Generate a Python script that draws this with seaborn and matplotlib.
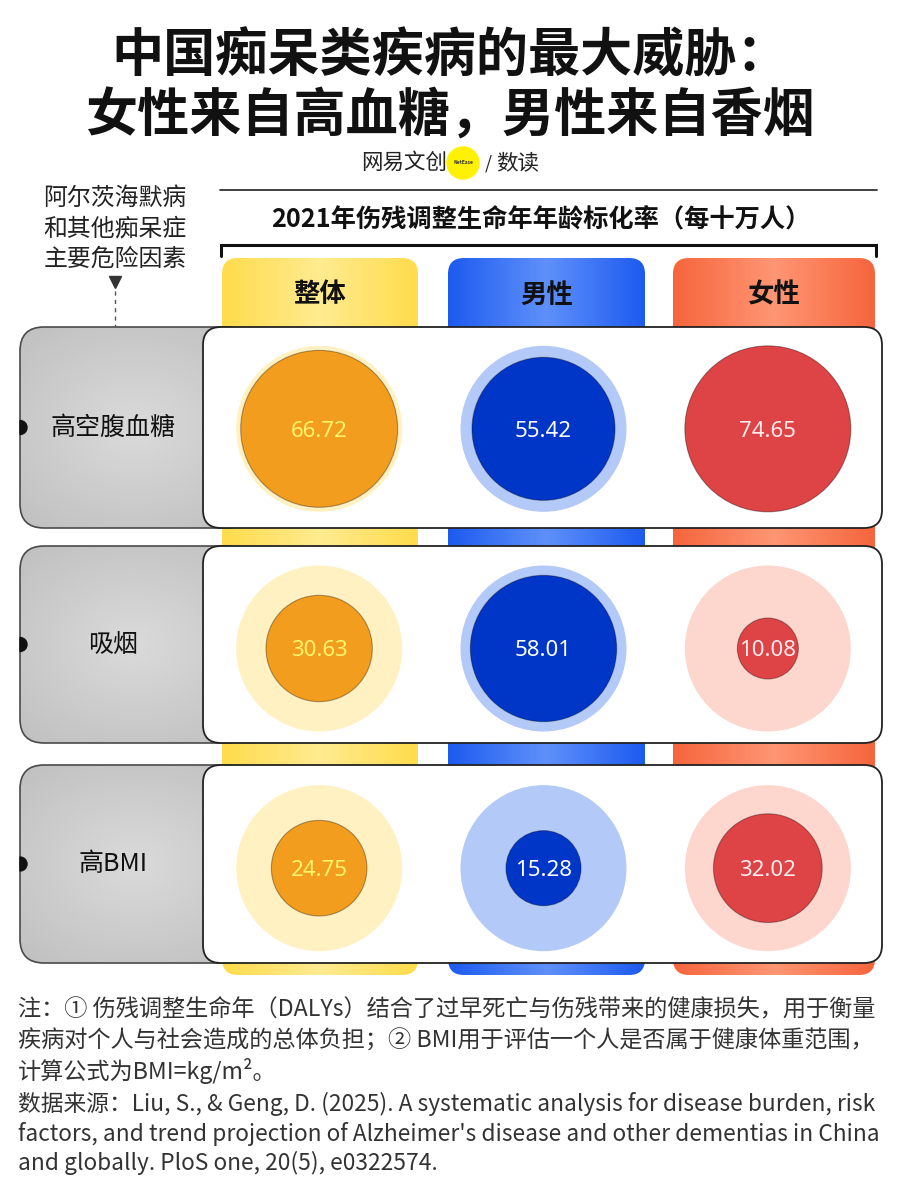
import numpy as np
import pandas as pd
import matplotlib
matplotlib.use("Agg")
import matplotlib.pyplot as plt
import seaborn as sns
from matplotlib.patches import FancyBboxPatch, Circle, Wedge
from matplotlib.colors import LinearSegmentedColormap

# ---- data -------------------------------------------------------------
groups = ["整体", "男性", "女性"]
factors = ["高空腹血糖", "吸烟", "高BMI"]
overall = [66.72, 30.63, 24.75]
male = [55.42, 58.01, 15.28]
female = [74.65, 10.08, 32.02]

title_lines = ["中国痴呆类疾病的最大威胁：", "女性来自高血糖，男性来自香烟"]
subtitle = "2021年伤残调整生命年年龄标化率（每十万人）"
side_note = ["阿尔茨海默病", "和其他痴呆症", "主要危险因素"]
footnotes = [
    "注：① 伤残调整生命年（DALYs）结合了过早死亡与伤残带来的健康损失，用于衡量",
    "疾病对个人与社会造成的总体负担；② BMI用于评估一个人是否属于健康体重范围，",
    "计算公式为BMI=kg/m²。",
    "数据来源：Liu, S., & Geng, D. (2025). A systematic analysis for disease burden, risk",
    "factors, and trend projection of Alzheimer's disease and other dementias in China",
    "and globally. PloS one, 20(5), e0322574.",
]

# ---- style ------------------------------------------------------------
inner_colors = ["#F29D1E", "#0036C8", "#DE4346"]
outer_colors = ["#FFF1C2", "#B3C9F7", "#FDD6CD"]
bar_colors = [("#FFDC4C", "#FFEB90"), ("#1D5BEF", "#5F90FA"), ("#F6653D", "#FF9674")]
value_colors = ["#FFF46B", "#FFFFFF", "#FFEDED"]

W, H = 899, 1200
bar_x = [(222, 418), (448, 645), (673, 875)]
bar_top, bar_bottom = 258, 975
row_y = [(327, 528), (546, 743), (765, 963)]

sns.set_theme(style="white")
plt.rcParams["font.family"] = ["Noto Sans CJK SC", "DejaVu Sans"]

df = pd.DataFrame({
    "factor": np.repeat(factors, len(groups)),
    "group": groups * len(factors),
    "value": np.ravel(np.column_stack([overall, male, female])),
})
vmax = df["value"].max()
r_max_px = 83
s_max = (2 * r_max_px * 72 / 100) ** 2

fig = plt.figure(figsize=(W / 100, H / 100), dpi=100)
fig.patch.set_facecolor("white")
bg = fig.add_axes([0, 0, 1, 1])
bg.set_xlim(0, W)
bg.set_ylim(H, 0)
bg.axis("off")

# titles
bg.text(450, 56, title_lines[0], ha="center", va="center",
        fontsize=37.5, weight="heavy", color="#111111")
bg.text(450, 116, title_lines[1], ha="center", va="center",
        fontsize=37.5, weight="heavy", color="#111111")

# logo
bg.text(447, 163, "网易文创", ha="right", va="center", fontsize=15.5, color="#222222")
bg.add_patch(Circle((463, 163), 16, color="#FFF200", zorder=1))
bg.text(463, 163, "NetEase", ha="center", va="center", fontsize=3.5,
        weight="bold", color="#333333", zorder=2)
bg.text(488, 163, "/", ha="center", va="center", fontsize=13, color="#222222")
bg.text(496, 163, "数读", ha="left", va="center", fontsize=15.5, color="#222222")

# side note
for k, line in enumerate(side_note):
    bg.text(115, 198 + k * 30.5, line, ha="center", va="center",
            fontsize=17.2, color="#222222")
bg.plot(115, 282, marker="v", ms=9, color="#333333")
bg.plot([115, 115], [291, 327], ls=(0, (3, 3)), lw=1, color="#555555")

# header lines
bg.plot([220, 877], [190, 190], color="#333333", lw=1.3)
bg.text(541, 219, subtitle, ha="center", va="center", fontsize=18.2,
        weight="bold", color="#111111")
bg.plot([221, 221, 876, 876], [256, 245, 245, 256], color="#111111", lw=2.2,
        solid_joinstyle="miter")

# column bars with horizontal gradient
for (x0, x1), (edge, mid), name in zip(bar_x, bar_colors, groups):
    patch = FancyBboxPatch((x0, bar_top), x1 - x0, bar_bottom - bar_top,
                           boxstyle="round,pad=0,rounding_size=16",
                           facecolor="none", edgecolor="none", zorder=1)
    bg.add_patch(patch)
    cmap = LinearSegmentedColormap.from_list("g", [edge, mid, edge])
    im = bg.imshow(np.linspace(0, 1, 200)[None, :], extent=(x0, x1, bar_bottom, bar_top),
                   cmap=cmap, aspect="auto", zorder=1, interpolation="bilinear")
    im.set_clip_path(patch)
    bg.text((x0 + x1) / 2, 295, name, ha="center", va="center", fontsize=19,
            weight="bold", color="#111111", zorder=2)

# row panels
gy, gx = np.mgrid[-1:1:80j, -1:1:80j]
glow = np.hypot(gx * 0.9, gy)
gray_cmap = LinearSegmentedColormap.from_list("gray", ["#DADADA", "#C0C0C0"])
for (y0, y1), name in zip(row_y, factors):
    gbox = FancyBboxPatch((20, y0), 230, y1 - y0, boxstyle="round,pad=0,rounding_size=24",
                          facecolor="none", edgecolor="#4A4A4A", lw=1.2, zorder=3)
    bg.add_patch(gbox)
    im = bg.imshow(glow, extent=(20, 250, y1, y0), cmap=gray_cmap, aspect="auto",
                   zorder=2, interpolation="bilinear")
    im.set_clip_path(gbox)
    bg.add_patch(FancyBboxPatch((203, y0), 679, y1 - y0,
                                boxstyle="round,pad=0,rounding_size=18",
                                facecolor="white", edgecolor="#222222", lw=1.3, zorder=4))
    yc = (y0 + y1) / 2
    bg.add_patch(Wedge((20, yc), 7, -90, 90, color="#111111", zorder=5))
    bg.text(113, yc, name, ha="center", va="center", fontsize=18, color="#111111", zorder=5)

# footnotes
foot_y = [1010, 1041, 1071, 1104, 1134, 1163]
for k, line in enumerate(footnotes):
    bg.text(18, foot_y[k], line, ha="left", va="center",
            fontsize=16.7 if k < 3 else 16.4, color="#333333")

bg.set_xlim(0, W)
bg.set_ylim(H, 0)

# ---- data layer: bubbles ---------------------------------------------
ax = fig.add_axes([207 / W, 1 - 978 / H, 673 / W, 659 / H])
ax.set_zorder(5)
ax.patch.set_alpha(0)
sns.scatterplot(data=df, x="group", y="factor", hue="group", palette=outer_colors,
                s=s_max, linewidth=0, legend=False, ax=ax, clip_on=False)
sns.scatterplot(data=df, x="group", y="factor", hue="group", palette=inner_colors,
                size="value", sizes=(0, s_max), size_norm=(0, vmax),
                edgecolor="#00000055", linewidth=0.8, legend=False, ax=ax, clip_on=False)
gpos = {g: i for i, g in enumerate(groups)}
fpos = {f: j for j, f in enumerate(factors)}
for _, row in df.iterrows():
    gi = gpos[row["group"]]
    ax.text(gi, fpos[row["factor"]], f"{row['value']:.2f}", ha="center",
            va="center_baseline", fontsize=16, color=value_colors[gi],
            family=["Noto Sans", "DejaVu Sans"])
ax.set_xlim(-0.5, 2.5)
ax.set_ylim(2.5, -0.5)
ax.axis("off")

fig.savefig("out.png", dpi=100)
